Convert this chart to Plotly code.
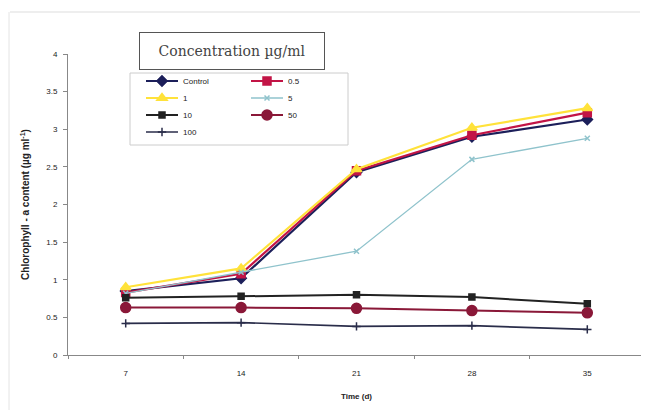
import plotly.graph_objects as go

days = ["7", "14", "21", "28", "35"]
series_names = ["Control", "0.5", "1", "5", "10", "50", "100"]
control = [0.85, 1.02, 2.43, 2.90, 3.13]
c0_5 = [0.83, 1.08, 2.45, 2.92, 3.22]
c1 = [0.90, 1.15, 2.47, 3.02, 3.28]
c5 = [0.82, 1.10, 1.38, 2.60, 2.88]
c10 = [0.76, 0.78, 0.80, 0.77, 0.68]
c50 = [0.63, 0.63, 0.62, 0.59, 0.56]
c100 = [0.42, 0.43, 0.38, 0.39, 0.34]
y_ticks = [0, 0.5, 1, 1.5, 2, 2.5, 3, 3.5, 4]
y_tick_text = ["0", "0.5", "1", "1.5", "2", "2.5", "3", "3.5", "4"]

values = [control, c0_5, c1, c5, c10, c50, c100]
colors = ["#1c1f5a", "#c21446", "#ffe23a", "#8fc3cc", "#222222", "#8a1838", "#2a2d4a"]
symbols = ["diamond", "square", "triangle-up", "x-thin", "square", "circle", "cross-thin"]
sizes = [8, 8, 9, 5, 6, 10, 6]
widths = [2.2, 2.2, 2.2, 1.3, 2, 2, 1.6]
# one horizontal legend per legend row: (Control, 0.5), (1, 5), (10, 50), (100)
legend_ids = ["legend", "legend", "legend2", "legend2", "legend3", "legend3", "legend4"]

fig = go.Figure()
for name, vals, col, sym, sz, w, lg in zip(series_names, values, colors, symbols, sizes, widths, legend_ids):
    fig.add_trace(go.Scatter(
        x=days, y=vals, name=name, mode="lines+markers",
        line=dict(color=col, width=w),
        marker=dict(symbol=sym, size=sz, color=col,
                    line=dict(color=col, width=1.5)),
        legend=lg,
    ))

# page has an 8px body margin; work in page pixels and convert
OFF = 8
W, H = 649 - OFF, 417 - OFF
PL, PR, PT, PB = 68, 645, 54, 355
PW, PH = PR - PL, PB - PT

def px(x):
    return (x - PL) / PW

def py(y):
    return (PB - y) / PH

def legend_row(y_center):
    return dict(
        font=dict(family="Liberation Sans", size=8, color="#222"),
        bgcolor="rgba(255,255,255,0)", borderwidth=0,
        orientation="h", entrywidth=58, entrywidthmode="pixels",
        xanchor="left", yanchor="middle", xref="paper", yref="paper",
        x=px(141), y=py(y_center), itemwidth=32, tracegroupgap=0,
    )

fig.update_layout(
    width=W, height=H,
    paper_bgcolor="white", plot_bgcolor="white",
    margin=dict(l=PL - OFF, r=W - (PR - OFF), t=PT - OFF, b=H - (PB - OFF), autoexpand=False),
    showlegend=True,
    legend=legend_row(81),
    legend2=legend_row(98),
    legend3=legend_row(115),
    legend4=legend_row(132),
    xaxis=dict(
        type="category", range=[-0.5, 4.5],
        showline=True, linecolor="#888", linewidth=1,
        ticks="outside", ticklen=3, tickcolor="#888", tickson="boundaries",
        showgrid=False, zeroline=False, automargin=False, ticklabelstandoff=10,
        tickfont=dict(family="Liberation Sans", size=8, color="#222"),
        title=dict(text="<b>Time (d)</b>", standoff=16,
                   font=dict(family="Liberation Sans", size=8, color="#222")),
    ),
    yaxis=dict(
        range=[0, 4], tickvals=y_ticks, ticktext=y_tick_text,
        showline=True, linecolor="#888", linewidth=1,
        ticks="outside", ticklen=4, tickcolor="#888",
        showgrid=False, zeroline=False, automargin=False, ticklabelstandoff=4,
        tickfont=dict(family="Liberation Sans", size=8, color="#222"),
        title=dict(text="<b>Chlorophyll - a content (µg ml<sup>-1</sup>)</b>", standoff=14,
                   font=dict(family="Liberation Sans", size=10, color="#222")),
    ),
)

# Legend title box
fig.add_annotation(
    xref="paper", yref="paper", x=px(232), y=py(51), xanchor="center", yanchor="middle",
    text="Concentration µg/ml", showarrow=False, width=182, height=34,
    font=dict(family="DejaVu Serif", size=14, color="#444"),
    bordercolor="#555", borderwidth=1, borderpad=1, bgcolor="white",
)
# Legend frame
fig.add_shape(type="rect", xref="paper", yref="paper",
              x0=px(130), x1=px(348), y0=py(145), y1=py(73),
              line=dict(color="#ccc", width=1), fillcolor="rgba(0,0,0,0)")
# Page edge artefacts
fig.add_shape(type="line", xref="paper", yref="paper",
              x0=px(10), x1=px(640), y0=py(12), y1=py(12),
              line=dict(color="#ddd", width=1))
fig.add_shape(type="line", xref="paper", yref="paper",
              x0=px(9), x1=px(9), y0=py(12), y1=py(410),
              line=dict(color="#e4e4e4", width=1))

fig.write_html("out.html")
